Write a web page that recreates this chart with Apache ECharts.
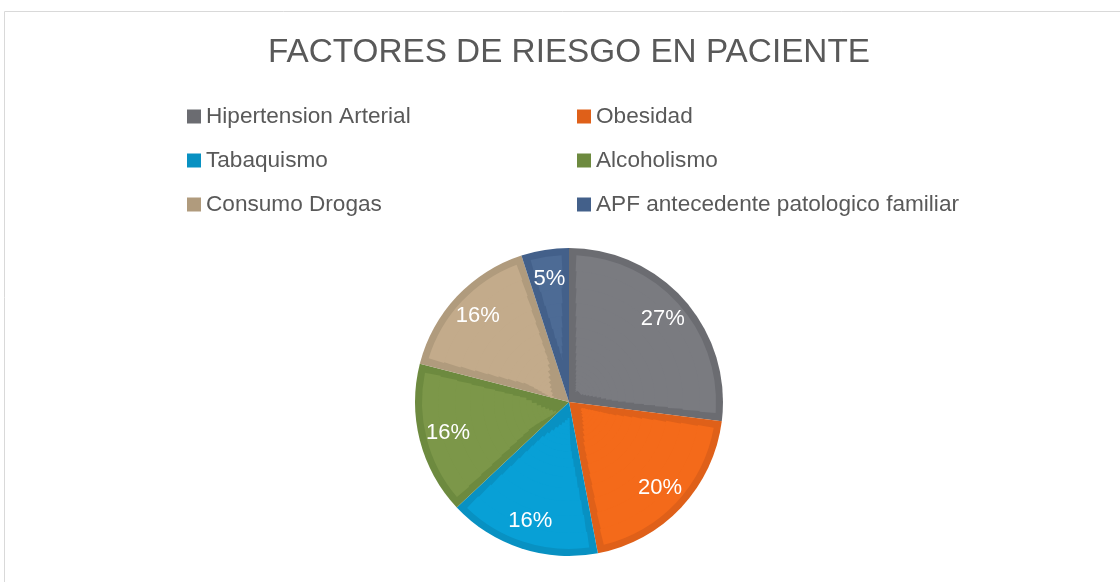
<!DOCTYPE html>
<html>
<head>
<meta charset="utf-8">
<script src="https://cdn.jsdelivr.net/npm/echarts@6/dist/echarts.min.js"></script>
<style>
  html, body { margin: 0; padding: 0; background: #fff; }
  #chart { width: 1120px; height: 582px; }
</style>
</head>
<body>
<div id="chart"></div>
<script>
const categories = ['Hipertension Arterial', 'Obesidad', 'Tabaquismo', 'Alcoholismo', 'Consumo Drogas', 'APF antecedente patologico familiar']
const values = [27, 20, 16, 16, 16, 5]

const leftColumn = ['Hipertension Arterial', 'Tabaquismo', 'Consumo Drogas']
const rightColumn = ['Obesidad', 'Alcoholismo', 'APF antecedente patologico familiar']

// relleno y borde (mas oscuro) de cada sector
const fillColors = ['#7a7b80', '#f46a1a', '#08a0d6', '#7c9749', '#c3ab8b', '#4d6b95']
const edgeColors = ['#6b6c71', '#df6019', '#0891c2', '#6d8a3f', '#b09b7d', '#43608a']

const center = [569, 402]
const outerR = 154
const edge = 7
const font = 'Liberation Sans, Arial, sans-serif'

// anillos finos del relleno claro; cada uno con padAngle para dejar ~2*edge px de borde
const bands = []
for (let r = 8; r < outerR - edge; r *= 1.15) {
  bands.push([r, Math.min(r * 1.15, outerR - edge)])
}

const darkData = categories.map((name, i) => ({ name, value: values[i], itemStyle: { color: edgeColors[i] } }))
const lightData = categories.map((name, i) => ({ name, value: values[i], itemStyle: { color: fillColors[i] } }))
const labelData = categories.map((name, i) => ({ name, value: values[i] }))

const legendBase = {
  orient: 'vertical',
  top: 105,
  padding: 0,
  icon: 'rect',
  itemWidth: 14,
  itemHeight: 14,
  itemGap: 21,
  textStyle: { fontFamily: font, fontSize: 22.6, lineHeight: 20, color: '#595959', padding: [0, 0, 0, 0] }
}

const lightSeries = bands.map((b, k) => {
  const mid = (b[0] + b[1]) / 2
  return {
    name: 'relleno' + k,
    type: 'pie',
    center: center,
    radius: [b[0], k === bands.length - 1 ? b[1] : b[1] + 0.8],
    startAngle: 90,
    clockwise: true,
    padAngle: (2 * edge / mid) * 180 / Math.PI,
    silent: true,
    label: { show: false },
    labelLine: { show: false },
    emphasis: { scale: false },
    data: lightData
  }
})

const chart = echarts.init(document.getElementById('chart'))
chart.setOption({
  animation: false,
  title: {
    text: 'FACTORES DE RIESGO EN PACIENTE',
    left: 268,
    top: 36,
    padding: 0,
    textStyle: { fontFamily: font, fontSize: 33.3, fontWeight: 'normal', color: '#595959' }
  },
  legend: [
    Object.assign({}, legendBase, { left: 187, data: leftColumn }),
    Object.assign({}, legendBase, { left: 577, data: rightColumn })
  ],
  graphic: [
    {
      type: 'rect',
      shape: { x: 4.5, y: 11.5, width: 1130, height: 600 },
      style: { fill: 'none', stroke: '#d9d9d9', lineWidth: 1 },
      silent: true
    }
  ],
  series: [
    {
      name: 'borde',
      type: 'pie',
      center: center,
      radius: [0, outerR],
      startAngle: 90,
      clockwise: true,
      label: { show: false },
      labelLine: { show: false },
      emphasis: { scale: false },
      data: darkData
    }
  ].concat(lightSeries, [
    {
      name: 'etiquetas',
      type: 'pie',
      center: center,
      radius: [90, outerR],
      startAngle: 90,
      clockwise: true,
      silent: true,
      itemStyle: { color: 'rgba(0,0,0,0)' },
      label: {
        show: true,
        position: 'inside',
        color: '#fff',
        fontFamily: font,
        fontSize: 22,
        formatter: p => Math.round(p.percent) + '%'
      },
      labelLine: { show: false },
      data: labelData
    }
  ])
})
</script>
</body>
</html>
